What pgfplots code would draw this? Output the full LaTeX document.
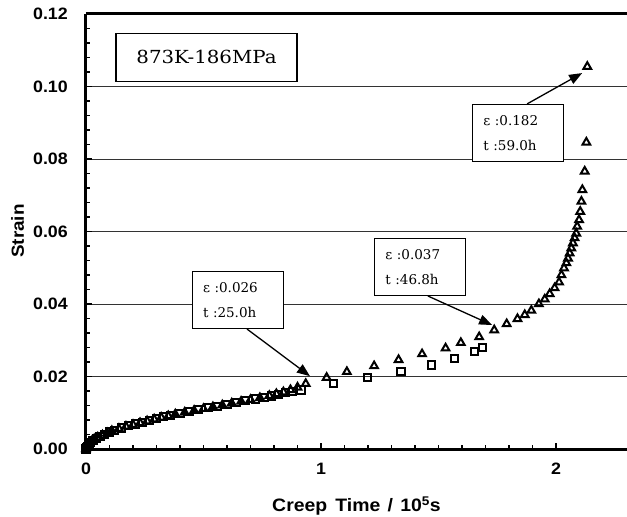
\documentclass[border=0pt]{standalone}
\usepackage{fontspec}
\setmainfont{DejaVu Serif}
\newfontfamily\labfont{Liberation Sans}[FakeStretch=1.08]
\newfontfamily\boxfont{DejaVu Serif}[FakeStretch=1.1]
\usepackage{pgfplots}
\pgfplotsset{compat=1.18}
\usetikzlibrary{arrows.meta}

% creep data, x in 1e5 s
\pgfplotstableread{
x y
0.000 0.0000
0.003 0.0005
0.005 0.0008
0.010 0.0013
0.015 0.0016
0.020 0.0019
0.030 0.0024
0.045 0.0030
0.060 0.0035
0.080 0.0041
0.100 0.0047
0.120 0.0052
0.150 0.0058
0.180 0.0064
0.210 0.0069
0.240 0.0074
0.270 0.0079
0.300 0.0084
0.330 0.0089
0.360 0.0093
0.400 0.0099
0.440 0.0104
0.480 0.0109
0.520 0.0114
0.560 0.0118
0.600 0.0123
0.640 0.0128
0.680 0.0133
0.720 0.0138
0.760 0.0143
0.790 0.0146
0.820 0.0150
0.850 0.0155
0.880 0.0158
0.915 0.0163
1.053 0.0181
1.197 0.0197
1.340 0.0213
1.470 0.0232
1.567 0.0250
1.654 0.0269
1.687 0.0280
}\squares

\pgfplotstableread{
x y
0.000 0.0000
0.004 0.0007
0.007 0.0011
0.015 0.0017
0.025 0.0022
0.035 0.0027
0.050 0.0032
0.070 0.0038
0.090 0.0044
0.110 0.0050
0.140 0.0056
0.170 0.0062
0.200 0.0067
0.230 0.0072
0.260 0.0077
0.290 0.0082
0.320 0.0087
0.350 0.0091
0.380 0.0096
0.420 0.0101
0.460 0.0106
0.500 0.0111
0.540 0.0116
0.580 0.0121
0.620 0.0126
0.660 0.0131
0.700 0.0136
0.740 0.0141
0.780 0.0147
0.810 0.0152
0.840 0.0157
0.870 0.0163
0.900 0.0170
0.935 0.0180
1.024 0.0197
1.110 0.0213
1.226 0.0229
1.330 0.0246
1.430 0.0262
1.530 0.0278
1.595 0.0293
1.673 0.0309
1.737 0.0328
1.790 0.0345
1.836 0.0359
1.867 0.0370
1.895 0.0382
1.927 0.0400
1.952 0.0413
1.973 0.0428
1.994 0.0444
2.013 0.0460
2.023 0.0480
2.034 0.0499
2.044 0.0513
2.051 0.0526
2.058 0.0540
2.065 0.0554
2.072 0.0568
2.079 0.0582
2.086 0.0595
2.090 0.0614
2.098 0.0632
2.103 0.0655
2.108 0.0683
2.112 0.0715
2.122 0.0766
2.129 0.0846
2.133 0.1055
}\triangles

\begin{document}
\begin{tikzpicture}[
  ann/.style={draw=black, line width=1.1bp, fill=white, align=left,
    font=\fontsize{13.5bp}{25bp}\selectfont, text width=69bp, inner xsep=11bp,
    minimum height=57bp},
  arr/.style={line width=1.3bp, -{Triangle[length=13bp,width=10bp]}}]
\begin{axis}[
  scale only axis, width=541bp, height=435bp,
  xmin=0, xmax=2.302, ymin=0, ymax=0.12,
  axis x line*=box, axis y line*=left,
  xtick pos=bottom, ytick pos=left,
  x axis line style={line width=3bp},
  y axis line style={line width=3bp},
  xtick={0,1,2}, minor x tick num=9,
  ytick={0,0.02,...,0.12}, minor y tick num=4,
  major tick length=6bp, minor tick length=4.5bp,
  every tick/.style={black, line width=1.3bp},
  ymajorgrids, major grid style={black!80, line width=0.8bp},
  tick label style={font=\labfont\bfseries\fontsize{16.5bp}{19bp}\selectfont},
  /pgf/number format/assume math mode=true,
  yticklabel style={/pgf/number format/.cd, fixed, fixed zerofill, precision=2,
    /tikz/.cd, inner sep=0pt, anchor=east, xshift=-18bp},
  xticklabel style={inner sep=0pt, anchor=north, yshift=-14bp},
  scaled ticks=false,
  xlabel={Creep\hspace{0.45em}Time\hspace{0.4em}/\hspace{0.4em}10\textsuperscript{5}s},
  xlabel style={font=\labfont\bfseries\fontsize{18bp}{20bp}\selectfont,
    at={(axis description cs:0.5,0)}, anchor=base, yshift=-62.7bp},
  ylabel={Strain},
  ylabel style={font=\labfont\bfseries\fontsize{17.5bp}{20bp}\selectfont,
    at={(axis description cs:0,0.501)}, anchor=base, yshift=62bp},
]
\addplot[only marks, line width=2bp, mark=square, mark size=3.6bp,
  mark options={solid, line width=2bp, fill=white}] table {\squares};
\addplot[only marks, line width=2bp, mark=triangle, mark size=4.4bp,
  mark options={solid, line width=2bp, fill=white}] table {\triangles};

\coordinate (O) at (axis cs:0,0);

\node[draw=black, line width=1.1bp, fill=white, minimum width=181bp,
  minimum height=48bp, font=\boxfont\fontsize{18bp}{20bp}\selectfont]
  at (axis cs:0.5128,0.1081) {873K-186MPa};

\node[ann] at (axis cs:1.838,0.0872) {ε :0.182\\t :59.0h};
\draw[arr] (axis cs:1.877,0.0952) -- (axis cs:2.111,0.1037);

\node[ann] at (axis cs:1.421,0.0501) {ε :0.037\\t :46.8h};
\draw[arr] (axis cs:1.455,0.0422) -- (axis cs:1.728,0.0342);

\node[ann] at (axis cs:0.645,0.0410) {ε :0.026\\t :25.0h};
\draw[arr] (axis cs:0.685,0.0331) -- (axis cs:0.953,0.0201);
\end{axis}
\pgfresetboundingbox
\path (O) ++(-86bp,-68bp) rectangle ++(627bp,517bp);
\end{tikzpicture}
\end{document}
